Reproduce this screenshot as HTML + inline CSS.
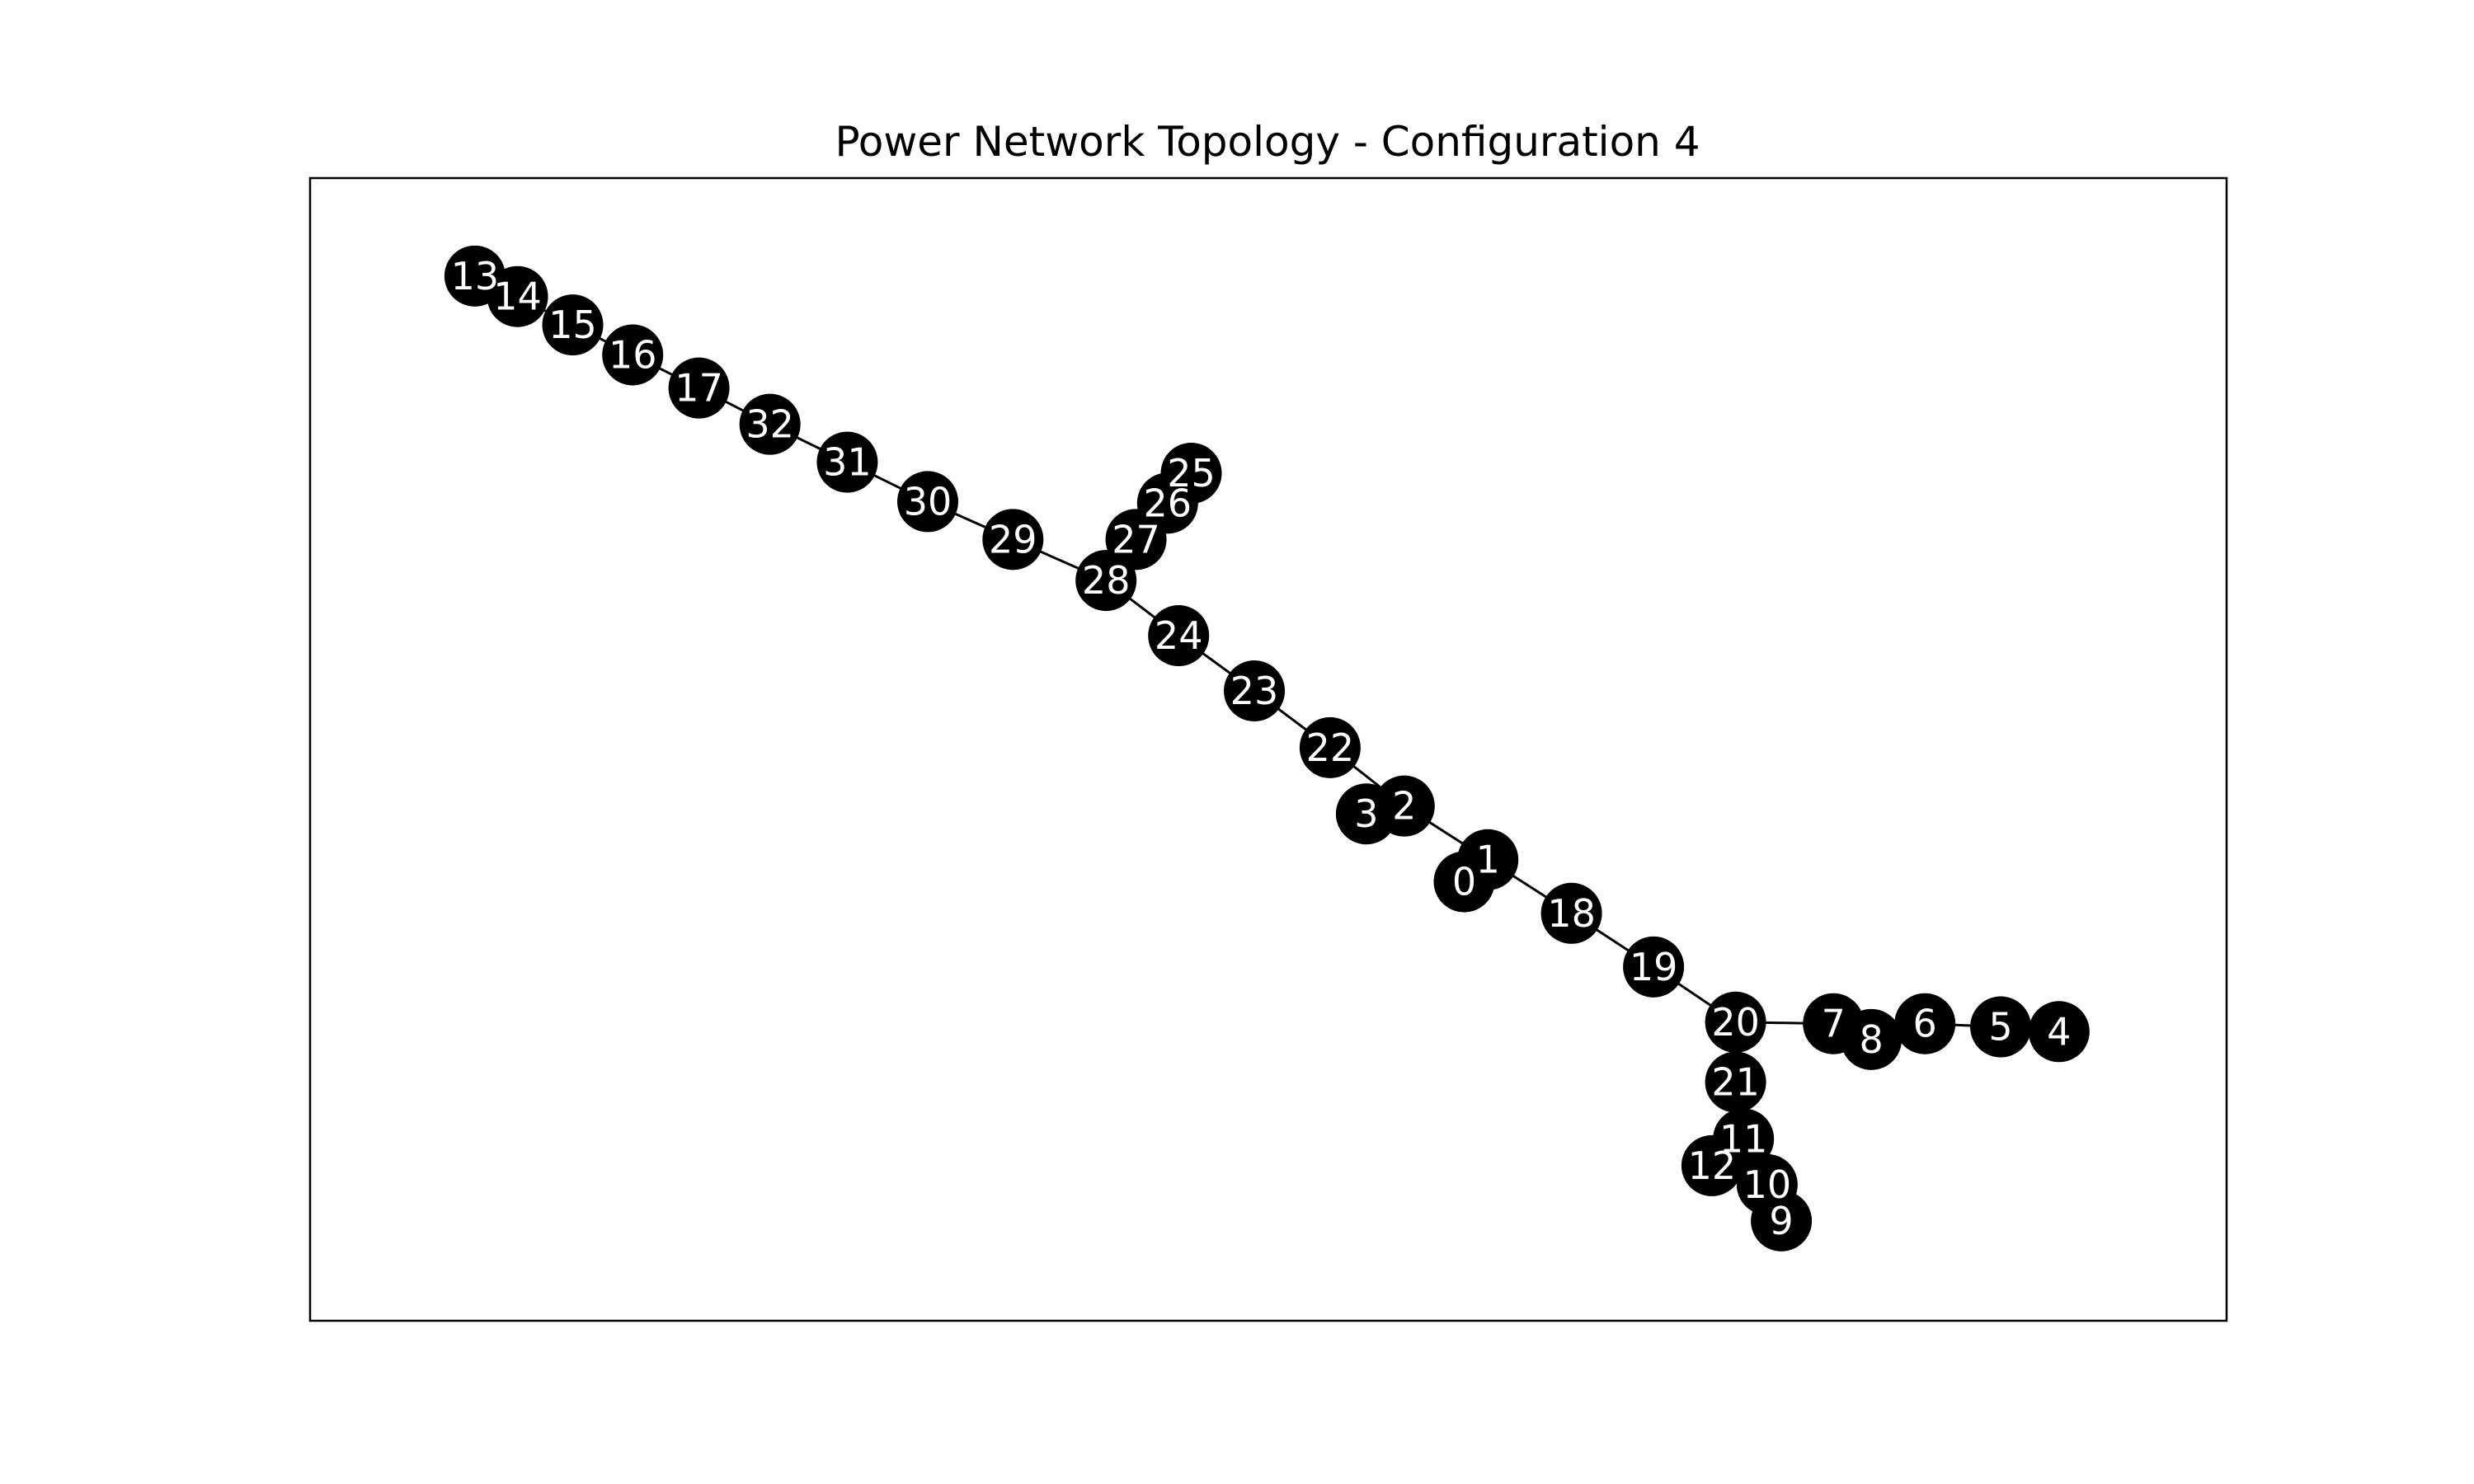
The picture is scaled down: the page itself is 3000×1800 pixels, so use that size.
<!DOCTYPE html>
<html><head><meta charset="utf-8"><style>
html,body{margin:0;padding:0;background:#fff}
svg{display:block}
text{font-family:"DejaVu Sans","Liberation Sans",sans-serif}
</style></head><body>
<svg id="chart" width="3000" height="1800" viewBox="0 0 3000 1800">
<rect x="0" y="0" width="3000" height="1800" fill="#fff"/>
<text x="1537" y="189" font-size="50" text-anchor="middle">Power Network Topology - Configuration 4</text>
<g id="edges"></g>
<g id="nodes"></g>
<g id="labels"></g>
<rect x="376" y="216" width="2324" height="1386" fill="none" stroke="#000" stroke-width="2.5"/>
</svg>
<script>
const nodeIds = [0,1,2,3,4,5,6,7,8,9,10,11,12,13,14,15,16,17,18,19,20,21,22,23,24,25,26,27,28,29,30,31,32];
const nodeX = [928,943,890,866,1305,1268,1220,1162,1186,1129,1120,1105,1085,301,328,363,401,443,996,1048,1100,1100,843,795,747,755,740,720,701,642,588,537,488];
const nodeY = [559,545,511,516,654,651,649,649,659,774,751,722,739,175,188,206,225,246,579,613,648,686,474,438,403,300,319,342,368,342,318,293,269];
const edgeFrom = [13,14,15,16,17,32,31,30,29,28,27,26,28,24,23,22,2,2,1,1,18,19,20,7,8,6,5,20,21,11,11,10];
const edgeTo   = [14,15,16,17,32,31,30,29,28,27,26,25,24,23,22,2,3,1,0,18,19,20,7,8,6,5,4,21,11,12,10,9];
const S = 3000/1568;
function sx(v){return v*S;}
function sy(v){return v*S;}
const NS='http://www.w3.org/2000/svg';
const eg=document.getElementById('edges'), ng=document.getElementById('nodes'), lg=document.getElementById('labels');
edgeFrom.forEach((a,i)=>{
  const b=edgeTo[i];
  const l=document.createElementNS(NS,'line');
  l.setAttribute('x1',sx(nodeX[a]));l.setAttribute('y1',sy(nodeY[a]));
  l.setAttribute('x2',sx(nodeX[b]));l.setAttribute('y2',sy(nodeY[b]));
  l.setAttribute('stroke','#000');l.setAttribute('stroke-width','3');
  
  
  eg.appendChild(l);
});
nodeIds.forEach((id,i)=>{
  const c=document.createElementNS(NS,'circle');
  c.setAttribute('cx',sx(nodeX[i]));c.setAttribute('cy',sy(nodeY[i]));c.setAttribute('r','37');
  c.setAttribute('fill','#000');
  
  
  ng.appendChild(c);
});
nodeIds.forEach((id,i)=>{
  const t=document.createElementNS(NS,'text');
  t.setAttribute('x',sx(nodeX[i]));t.setAttribute('y',sy(nodeY[i])+16);
  t.setAttribute('font-size','46');t.setAttribute('fill','#fff');t.setAttribute('text-anchor','middle');
  
  
  t.textContent=id;
  lg.appendChild(t);
});
</script>
</body></html>
